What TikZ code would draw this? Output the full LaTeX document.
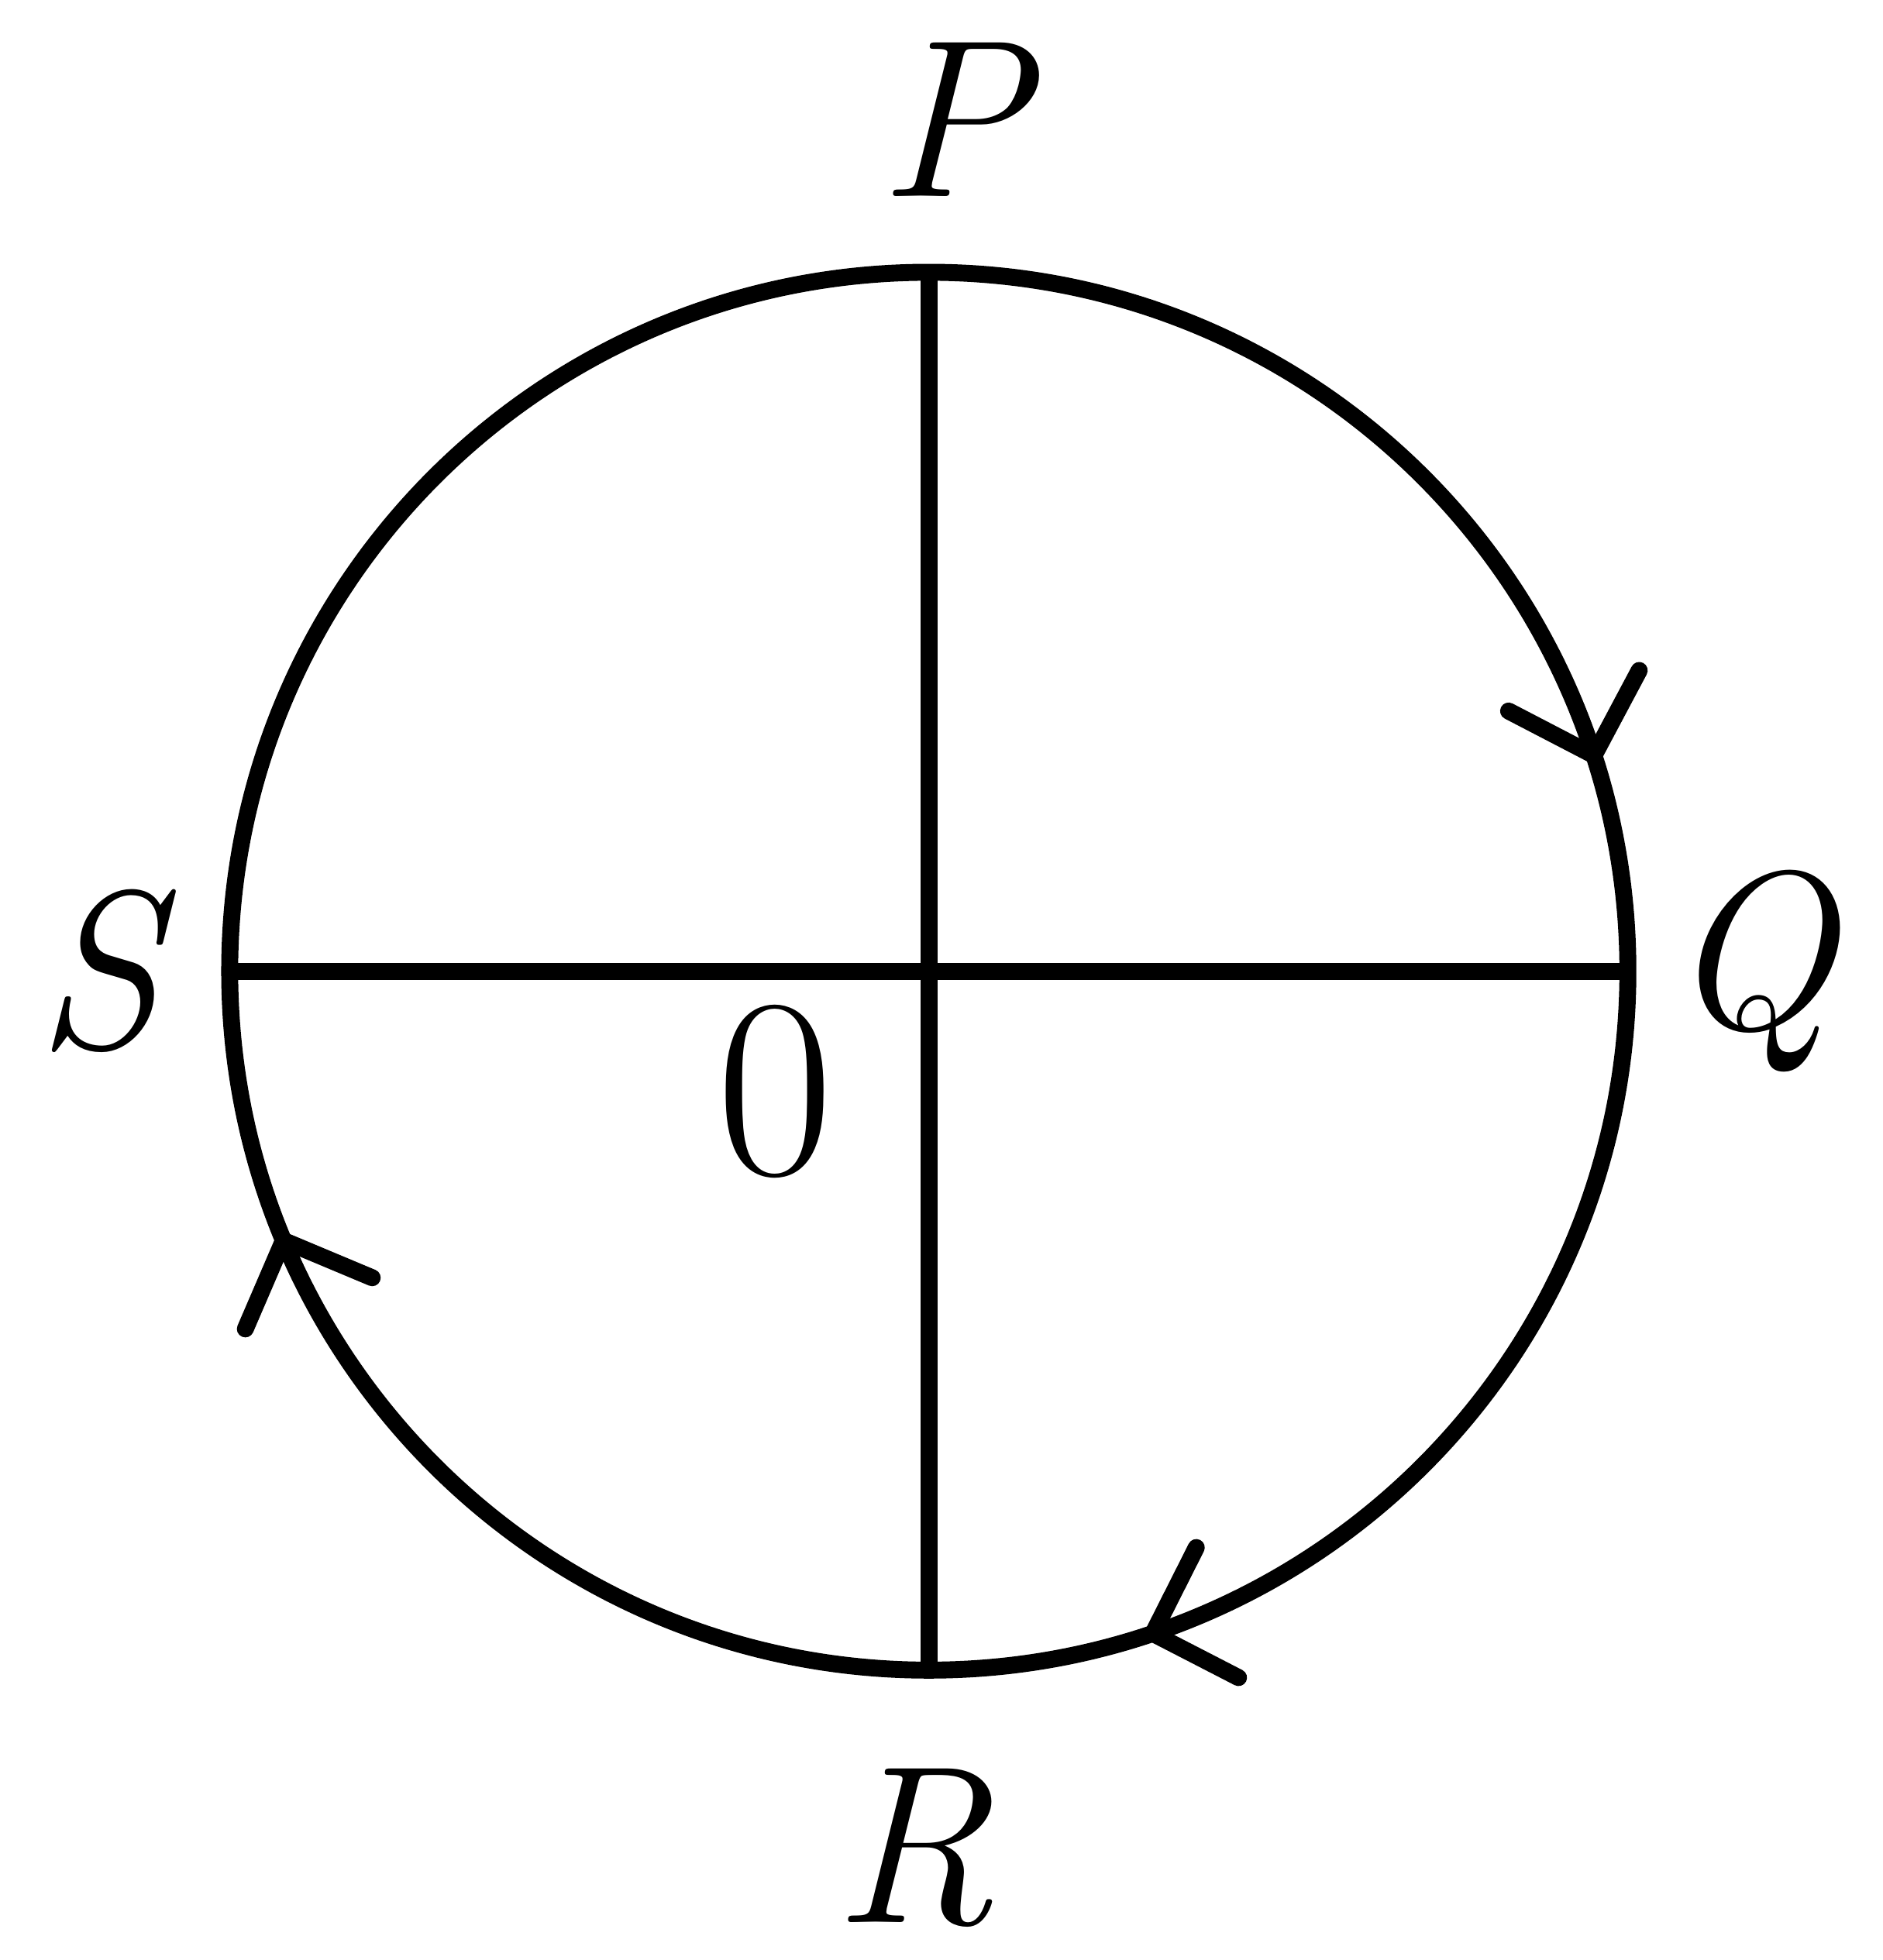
\documentclass[tikz,border=0pt]{standalone}
\usepackage{fontspec}
\usetikzlibrary{positioning,arrows.meta,decorations.markings}

\begin{document}
\begin{tikzpicture}
    [
    rim/.style = {line width=0.135cm},
    barb/.tip = {Straight Barb[length=5.4mm,width=10.9mm,round]},
    lbl/.style = {inner sep=0pt,font=\fontsize{51}{51}\selectfont\itshape},
    flow/.style = {decoration={markings,
        mark=at position 0.202 with {\arrow{barb}},
        mark=at position 0.450 with {\arrow{barb}},
        mark=at position 0.689 with {\arrow{barb}}},
        postaction={decorate}}
    ]
\useasboundingbox (0,0) rectangle (15.0,15.62);

\coordinate (O) at (7.40,7.88);
\coordinate (P) at (7.40,13.45);
\coordinate (Q) at (12.97,7.88);
\coordinate (R) at (7.40,2.31);
\coordinate (S) at (1.83,7.88);

\draw[rim,flow] (P) arc[start angle=90,end angle=-270,radius=5.57];
\draw[rim] (S) -- (Q);
\draw[rim] (P) -- (R);

\node[lbl,above=0.6cm of P,xshift=0.19cm] (Plbl) {P};
\node[lbl,right=0.3cm of Q] (Qlbl) {Q};
\node[lbl,below=0.78cm of R,xshift=-0.12cm] (Rlbl) {R};
\node[lbl,left=0.55cm of S] (Slbl) {S};
\node[lbl,font=\fontsize{58}{58}\selectfont,below left=0.26cm and 0.75cm of O] (Olbl) {0};
\end{tikzpicture}
\end{document}
